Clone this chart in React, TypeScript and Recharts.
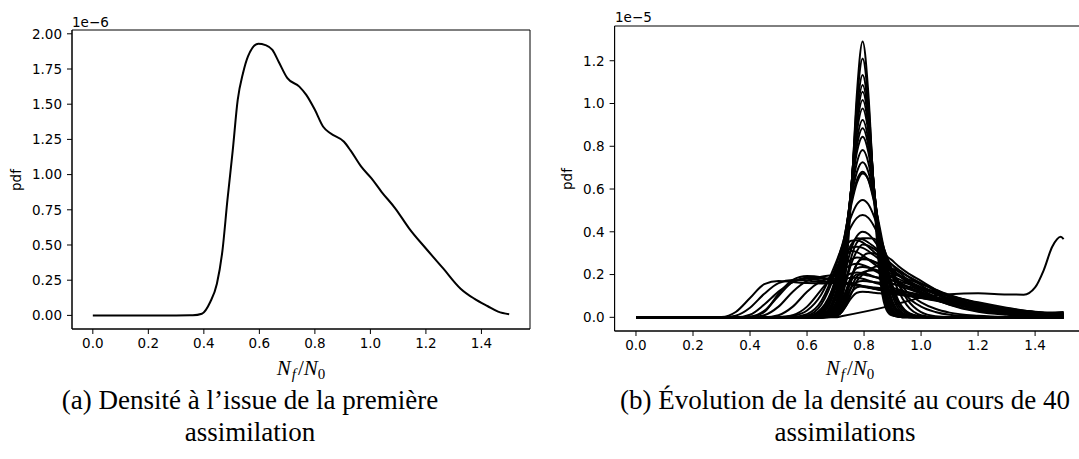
import React from 'react';
import { LineChart, Line, XAxis, YAxis, ReferenceArea } from 'recharts';

// ticks shared by both panels
const ratioTicks = [0, 0.2, 0.4, 0.6, 0.8, 1.0, 1.2, 1.4];
const pdfTicksA = [0, 0.25, 0.5, 0.75, 1.0, 1.25, 1.5, 1.75, 2.0];
const pdfTicksB = [0, 0.2, 0.4, 0.6, 0.8, 1.0, 1.2];

// (a) density after the first assimilation, pdf in units of 1e-6
const ratioA = [0, 0.1, 0.2, 0.3, 0.36, 0.393, 0.423, 0.447, 0.467, 0.485, 0.504, 0.522, 0.541, 0.559, 0.596, 0.622, 0.647, 0.67, 0.701, 0.744, 0.769, 0.8, 0.83, 0.856, 0.905, 0.929, 0.967, 1.004, 1.04, 1.09, 1.14, 1.2, 1.263, 1.325, 1.374, 1.423, 1.46, 1.5];
const pdfA = [0, 0, 0, 0, 0.001, 0.012, 0.095, 0.225, 0.46, 0.82, 1.17, 1.53, 1.72, 1.84, 1.93, 1.92, 1.886, 1.8, 1.685, 1.625, 1.566, 1.46, 1.34, 1.293, 1.233, 1.17, 1.056, 0.973, 0.878, 0.759, 0.617, 0.475, 0.332, 0.19, 0.119, 0.065, 0.027, 0.008];

// (b) densities over 40 assimilations, pdf in units of 1e-5, all on one grid
const ratioB = [0, 0.2, 0.3, 0.35, 0.4, 0.45, 0.5, 0.55, 0.6, 0.65, 0.7, 0.715, 0.735, 0.755, 0.775, 0.795, 0.815, 0.835, 0.855, 0.875, 0.895, 0.92, 0.95, 1.0, 1.05, 1.1, 1.2, 1.3, 1.4, 1.45, 1.5];

const pdfB: number[][] = [
  [0, 0, 0, 0, 0.002, 0.025, 0.11, 0.175, 0.193, 0.188, 0.168, 0.166, 0.163, 0.16, 0.155, 0.147, 0.14, 0.133, 0.129, 0.126, 0.124, 0.118, 0.108, 0.097, 0.086, 0.074, 0.048, 0.025, 0.009, 0.004, 0.001],
  [0, 0, 0.002, 0.025, 0.09, 0.155, 0.17, 0.165, 0.16, 0.158, 0.16, 0.16, 0.158, 0.155, 0.15, 0.145, 0.14, 0.135, 0.13, 0.125, 0.12, 0.113, 0.105, 0.092, 0.08, 0.067, 0.045, 0.028, 0.016, 0.012, 0.01],
  [0, 0, 0, 0.008, 0.045, 0.11, 0.16, 0.175, 0.172, 0.165, 0.17, 0.175, 0.18, 0.185, 0.185, 0.18, 0.172, 0.163, 0.155, 0.147, 0.14, 0.13, 0.118, 0.1, 0.084, 0.068, 0.042, 0.024, 0.012, 0.008, 0.006],
  [0, 0, 0, 0, 0.012, 0.06, 0.12, 0.165, 0.185, 0.182, 0.18, 0.185, 0.195, 0.205, 0.21, 0.207, 0.2, 0.19, 0.18, 0.17, 0.16, 0.148, 0.134, 0.113, 0.092, 0.074, 0.045, 0.025, 0.012, 0.008, 0.005],
  [0, 0, 0, 0, 0.003, 0.03, 0.1, 0.165, 0.18, 0.172, 0.16, 0.158, 0.155, 0.152, 0.148, 0.143, 0.138, 0.133, 0.128, 0.123, 0.118, 0.112, 0.104, 0.09, 0.078, 0.066, 0.044, 0.026, 0.013, 0.009, 0.007],
  [0, 0, 0, 0, 0, 0.01, 0.05, 0.12, 0.17, 0.19, 0.2, 0.21, 0.23, 0.245, 0.25, 0.245, 0.235, 0.22, 0.205, 0.19, 0.175, 0.16, 0.142, 0.118, 0.095, 0.075, 0.044, 0.024, 0.012, 0.009, 0.008],
  [0, 0, 0, 0, 0, 0, 0.01, 0.05, 0.12, 0.17, 0.2, 0.22, 0.25, 0.27, 0.28, 0.278, 0.27, 0.26, 0.245, 0.23, 0.215, 0.195, 0.172, 0.14, 0.11, 0.085, 0.048, 0.026, 0.014, 0.012, 0.012],
  [0, 0, 0, 0, 0, 0, 0, 0.01, 0.05, 0.13, 0.22, 0.26, 0.3, 0.325, 0.33, 0.325, 0.31, 0.29, 0.27, 0.25, 0.228, 0.2, 0.17, 0.13, 0.096, 0.07, 0.036, 0.018, 0.008, 0.006, 0.005],
  [0, 0, 0, 0, 0, 0, 0, 0, 0.008, 0.06, 0.21, 0.27, 0.33, 0.358, 0.36, 0.35, 0.33, 0.305, 0.28, 0.255, 0.23, 0.2, 0.165, 0.12, 0.085, 0.058, 0.026, 0.012, 0.005, 0.003, 0.002],
  [0, 0, 0, 0, 0, 0, 0, 0, 0, 0.02, 0.14, 0.2, 0.28, 0.34, 0.37, 0.365, 0.35, 0.33, 0.31, 0.29, 0.27, 0.24, 0.21, 0.17, 0.13, 0.1, 0.055, 0.03, 0.015, 0.012, 0.01],
  [0, 0, 0, 0, 0, 0, 0, 0, 0.004, 0.04, 0.17, 0.23, 0.285, 0.31, 0.305, 0.29, 0.27, 0.25, 0.23, 0.21, 0.19, 0.168, 0.145, 0.11, 0.082, 0.06, 0.03, 0.015, 0.007, 0.005, 0.004],
  [0, 0, 0, 0, 0, 0, 0, 0, 0, 0, 0.05, 0.11, 0.22, 0.32, 0.38, 0.4, 0.39, 0.36, 0.32, 0.27, 0.22, 0.17, 0.12, 0.07, 0.04, 0.022, 0.007, 0.002, 0.001, 0, 0],
  [0, 0, 0, 0, 0, 0, 0, 0, 0, 0, 0.02, 0.06, 0.16, 0.28, 0.35, 0.37, 0.37, 0.368, 0.34, 0.29, 0.23, 0.16, 0.1, 0.05, 0.025, 0.012, 0.004, 0.001, 0, 0, 0],
  [0, 0, 0, 0, 0, 0, 0, 0, 0, 0.005, 0.04, 0.08, 0.16, 0.25, 0.31, 0.34, 0.335, 0.32, 0.3, 0.275, 0.25, 0.215, 0.18, 0.13, 0.095, 0.07, 0.035, 0.018, 0.009, 0.007, 0.006],
  [0, 0, 0, 0, 0, 0, 0, 0, 0, 0.003, 0.03, 0.06, 0.12, 0.19, 0.25, 0.285, 0.3, 0.3, 0.29, 0.27, 0.25, 0.225, 0.195, 0.15, 0.11, 0.08, 0.04, 0.02, 0.01, 0.008, 0.008],
  [0, 0, 0, 0, 0, 0, 0, 0, 0, 0, 0.01, 0.03, 0.09, 0.18, 0.25, 0.272, 0.27, 0.26, 0.25, 0.235, 0.22, 0.2, 0.175, 0.14, 0.11, 0.085, 0.048, 0.026, 0.014, 0.012, 0.012],
  [0, 0, 0, 0, 0, 0, 0, 0, 0, 0, 0.005, 0.015, 0.05, 0.11, 0.17, 0.2, 0.22, 0.235, 0.24, 0.238, 0.23, 0.215, 0.195, 0.16, 0.125, 0.095, 0.052, 0.028, 0.015, 0.013, 0.014],
  [0, 0, 0, 0, 0, 0, 0, 0, 0, 0, 0.01, 0.03, 0.1, 0.17, 0.2, 0.2, 0.195, 0.19, 0.185, 0.18, 0.175, 0.168, 0.158, 0.14, 0.12, 0.1, 0.066, 0.04, 0.02, 0.015, 0.015],
  [0, 0, 0, 0, 0, 0, 0, 0, 0, 0, 0.008, 0.025, 0.08, 0.14, 0.165, 0.17, 0.168, 0.165, 0.162, 0.16, 0.157, 0.152, 0.145, 0.13, 0.115, 0.1, 0.07, 0.045, 0.025, 0.02, 0.02],
  [0, 0, 0, 0, 0, 0, 0, 0, 0, 0, 0.005, 0.02, 0.065, 0.115, 0.14, 0.145, 0.143, 0.14, 0.137, 0.134, 0.13, 0.125, 0.118, 0.106, 0.094, 0.082, 0.06, 0.04, 0.024, 0.02, 0.022],
  [0, 0, 0, 0, 0, 0, 0, 0, 0, 0, 0.004, 0.015, 0.05, 0.09, 0.115, 0.12, 0.118, 0.115, 0.112, 0.11, 0.108, 0.105, 0.1, 0.092, 0.083, 0.074, 0.056, 0.04, 0.026, 0.022, 0.025],
  [0, 0, 0, 0, 0, 0, 0, 0, 0, 0, 0.006, 0.02, 0.07, 0.14, 0.19, 0.21, 0.218, 0.22, 0.218, 0.212, 0.205, 0.195, 0.18, 0.155, 0.13, 0.105, 0.065, 0.037, 0.018, 0.014, 0.013],
  [0, 0, 0, 0, 0, 0, 0, 0, 0, 0, 0.01, 0.035, 0.11, 0.19, 0.23, 0.235, 0.232, 0.225, 0.215, 0.205, 0.195, 0.18, 0.162, 0.135, 0.11, 0.088, 0.055, 0.032, 0.017, 0.015, 0.016],
  [0, 0, 0, 0, 0, 0, 0, 0, 0, 0, 0.012, 0.046, 0.198, 0.561, 1.048, 1.29, 1.048, 0.561, 0.198, 0.046, 0.01, 0.003, 0, 0, 0, 0, 0, 0, 0, 0, 0],
  [0, 0, 0, 0, 0, 0, 0, 0, 0, 0, 0.019, 0.065, 0.233, 0.582, 1.008, 1.21, 1.008, 0.582, 0.233, 0.065, 0.014, 0.003, 0, 0, 0, 0, 0, 0, 0, 0, 0],
  [0, 0, 0, 0, 0, 0, 0, 0, 0, 0, 0.03, 0.087, 0.267, 0.596, 0.965, 1.133, 0.965, 0.596, 0.267, 0.087, 0.022, 0.004, 0, 0, 0, 0, 0, 0, 0, 0, 0],
  [0, 0, 0, 0, 0, 0, 0, 0, 0, 0, 0.039, 0.102, 0.288, 0.602, 0.938, 1.087, 0.938, 0.602, 0.288, 0.102, 0.03, 0.005, 0.001, 0, 0, 0, 0, 0, 0, 0, 0],
  [0, 0, 0, 0, 0, 0, 0, 0, 0, 0, 0.046, 0.114, 0.302, 0.605, 0.918, 1.055, 0.918, 0.605, 0.302, 0.114, 0.036, 0.007, 0.001, 0, 0, 0, 0, 0, 0, 0, 0],
  [0, 0, 0, 0, 0, 0, 0, 0, 0, 0.001, 0.055, 0.129, 0.318, 0.606, 0.893, 1.016, 0.893, 0.606, 0.318, 0.129, 0.043, 0.009, 0.002, 0, 0, 0, 0, 0, 0, 0, 0],
  [0, 0, 0, 0, 0, 0, 0, 0, 0, 0.002, 0.066, 0.145, 0.334, 0.606, 0.867, 0.977, 0.867, 0.606, 0.334, 0.145, 0.052, 0.012, 0.002, 0, 0, 0, 0, 0, 0, 0, 0],
  [0, 0, 0, 0, 0, 0, 0, 0, 0, 0.003, 0.084, 0.168, 0.354, 0.603, 0.83, 0.923, 0.83, 0.603, 0.354, 0.168, 0.068, 0.018, 0.004, 0, 0, 0, 0, 0, 0, 0, 0],
  [0, 0, 0, 0, 0, 0, 0, 0, 0, 0.005, 0.098, 0.185, 0.367, 0.598, 0.802, 0.884, 0.802, 0.598, 0.367, 0.185, 0.08, 0.024, 0.005, 0.001, 0, 0, 0, 0, 0, 0, 0],
  [0, 0, 0, 0, 0, 0, 0, 0, 0, 0.008, 0.113, 0.203, 0.379, 0.591, 0.773, 0.845, 0.773, 0.591, 0.379, 0.203, 0.094, 0.03, 0.007, 0.001, 0, 0, 0, 0, 0, 0, 0],
  [0, 0, 0, 0, 0, 0, 0, 0, 0.001, 0.014, 0.139, 0.23, 0.393, 0.576, 0.724, 0.782, 0.724, 0.576, 0.393, 0.23, 0.12, 0.042, 0.011, 0.001, 0, 0, 0, 0, 0, 0, 0],
  [0, 0, 0, 0, 0, 0, 0, 0, 0.002, 0.022, 0.16, 0.25, 0.4, 0.56, 0.68, 0.725, 0.68, 0.56, 0.4, 0.25, 0.14, 0.056, 0.017, 0.002, 0, 0, 0, 0, 0, 0, 0],
  [0, 0, 0, 0, 0, 0, 0, 0, 0.003, 0.032, 0.184, 0.269, 0.404, 0.54, 0.643, 0.681, 0.643, 0.54, 0.404, 0.269, 0.16, 0.071, 0.023, 0.003, 0, 0, 0, 0, 0, 0, 0],
  [0, 0, 0, 0, 0, 0, 0, 0, 0.003, 0.028, 0.17, 0.255, 0.39, 0.525, 0.63, 0.673, 0.645, 0.55, 0.42, 0.285, 0.17, 0.08, 0.027, 0.004, 0, 0, 0, 0, 0, 0, 0],
  [0, 0, 0, 0, 0, 0, 0, 0.002, 0.015, 0.076, 0.235, 0.3, 0.391, 0.472, 0.529, 0.549, 0.529, 0.472, 0.391, 0.3, 0.214, 0.126, 0.057, 0.01, 0.001, 0, 0, 0, 0, 0, 0],
  [0, 0, 0, 0, 0, 0, 0.001, 0.007, 0.032, 0.107, 0.251, 0.303, 0.37, 0.426, 0.465, 0.478, 0.465, 0.426, 0.37, 0.303, 0.234, 0.157, 0.086, 0.024, 0.005, 0.001, 0, 0, 0, 0, 0],
];

// one run that drifts away and climbs at the right edge, on its own points
const ratioOutlier = [0, 0.7, 0.72, 0.88, 0.95, 1.0, 1.1, 1.2, 1.3, 1.36, 1.4, 1.43, 1.46, 1.49, 1.5];
const pdfOutlier = [0, 0, 0.005, 0.05, 0.075, 0.092, 0.108, 0.112, 0.107, 0.106, 0.14, 0.22, 0.33, 0.377, 0.366];

const dataA = ratioA.map((x, i) => ({ x, pdf: pdfA[i] }));
const dataB = ratioB.map((x, i) => {
  const row: Record<string, number> = { x };
  pdfB.forEach((curve, k) => { row[`c${k}`] = curve[i]; });
  return row;
});
const dataOutlier = ratioOutlier.map((x, i) => ({ x, pdf: pdfOutlier[i] }));

const tickFont = { fontSize: 13.5, fill: '#000', fontFamily: 'DejaVu Sans' };
const spine = { stroke: '#000', strokeWidth: 1 };
const xDomain: [number, number] = [-0.075, 1.575];
const yDomainA: [number, number] = [-0.0966, 2.027];
const yDomainB: [number, number] = [-0.064, 1.3625];

const FracLabel = ({ x, y }: { x: number; y: number }) => (
  <text x={x} y={y} textAnchor="middle" fontFamily="Liberation Serif" fontSize={21} fill="#000">
    <tspan fontStyle="italic">N</tspan>
    <tspan fontStyle="italic" fontSize={15} dy={4} dx={1}>f</tspan>
    <tspan dy={-4} dx={2}>/</tspan>
    <tspan fontStyle="italic">N</tspan>
    <tspan fontSize={15} dy={4}>0</tspan>
  </text>
);

const App = () => {
  return (
    <div style={{ position: 'absolute', left: 0, top: 0, width: 1079, height: 459, overflow: 'hidden', background: '#fff' }}>
      <div style={{ position: 'absolute', left: 0, top: 0 }}>
        <LineChart width={600} height={370} data={dataA} margin={{ top: 30, right: 70, bottom: 11, left: 0 }}>
          <XAxis type="number" dataKey="x" domain={xDomain} ticks={ratioTicks} allowDataOverflow
            tickFormatter={(v: number) => v.toFixed(1)} tick={tickFont} tickSize={5} tickMargin={4}
            axisLine={spine} tickLine={spine} height={30} interval={0} />
          <YAxis type="number" domain={yDomainA} ticks={pdfTicksA} allowDataOverflow
            tickFormatter={(v: number) => v.toFixed(2)} tick={tickFont} tickSize={5} tickMargin={5}
            axisLine={spine} tickLine={spine} width={72} interval={0} />
          <ReferenceArea x1={xDomain[0]} x2={xDomain[1]} y1={yDomainA[0]} y2={yDomainA[1]}
            fill="none" stroke="#000" strokeWidth={1} ifOverflow="visible" />
          <Line dataKey="pdf" type="monotone" stroke="#000" strokeWidth={2} dot={false} isAnimationActive={false} />
        </LineChart>
      </div>
      <div style={{ position: 'absolute', left: 540, top: 0 }}>
        <LineChart width={560} height={370} data={dataB} margin={{ top: 26, right: 15, bottom: 9, left: 0 }}>
          <XAxis type="number" dataKey="x" domain={xDomain} ticks={ratioTicks} allowDataOverflow
            tickFormatter={(v: number) => v.toFixed(1)} tick={tickFont} tickSize={5} tickMargin={4}
            axisLine={spine} tickLine={spine} height={30} interval={0} />
          <YAxis type="number" domain={yDomainB} ticks={pdfTicksB} allowDataOverflow
            tickFormatter={(v: number) => v.toFixed(1)} tick={tickFont} tickSize={5} tickMargin={5}
            axisLine={spine} tickLine={spine} width={74.6} interval={0} />
          <ReferenceArea x1={xDomain[0]} x2={xDomain[1]} y1={yDomainB[0]} y2={yDomainB[1]}
            fill="none" stroke="#000" strokeWidth={1} ifOverflow="visible" />
          {pdfB.map((_, k) => (
            <Line key={k} dataKey={`c${k}`} type="monotone" stroke="#000" strokeWidth={2}
              dot={false} isAnimationActive={false} />
          ))}
          <Line data={dataOutlier} dataKey="pdf" type="monotone" stroke="#000" strokeWidth={2}
            dot={false} isAnimationActive={false} />
        </LineChart>
      </div>
      <svg width={1079} height={459} style={{ position: 'absolute', left: 0, top: 0, pointerEvents: 'none' }}>
        <text x={72} y={27} fontFamily="DejaVu Sans" fontSize={13.5} fill="#000">1e{'\u2212'}6</text>
        <text x={615} y={22} fontFamily="DejaVu Sans" fontSize={13.5} fill="#000">1e{'\u2212'}5</text>
        <text x={21} y={180} transform="rotate(-90 21 180)" textAnchor="middle" fontFamily="DejaVu Sans" fontSize={13.5} fill="#000">pdf</text>
        <text x={572} y={179} transform="rotate(-90 572 179)" textAnchor="middle" fontFamily="DejaVu Sans" fontSize={13.5} fill="#000">pdf</text>
        <FracLabel x={301} y={375} />
        <FracLabel x={850} y={375} />
        <g fontFamily="Liberation Serif" fontSize={27} fill="#000" textAnchor="middle">
          <text x={250} y={409}>(a) Densité à l’issue de la première</text>
          <text x={250} y={441}>assimilation</text>
          <text x={845} y={409}>(b) Évolution de la densité au cours de 40</text>
          <text x={845} y={441}>assimilations</text>
        </g>
      </svg>
    </div>
  );
};

export default App;
